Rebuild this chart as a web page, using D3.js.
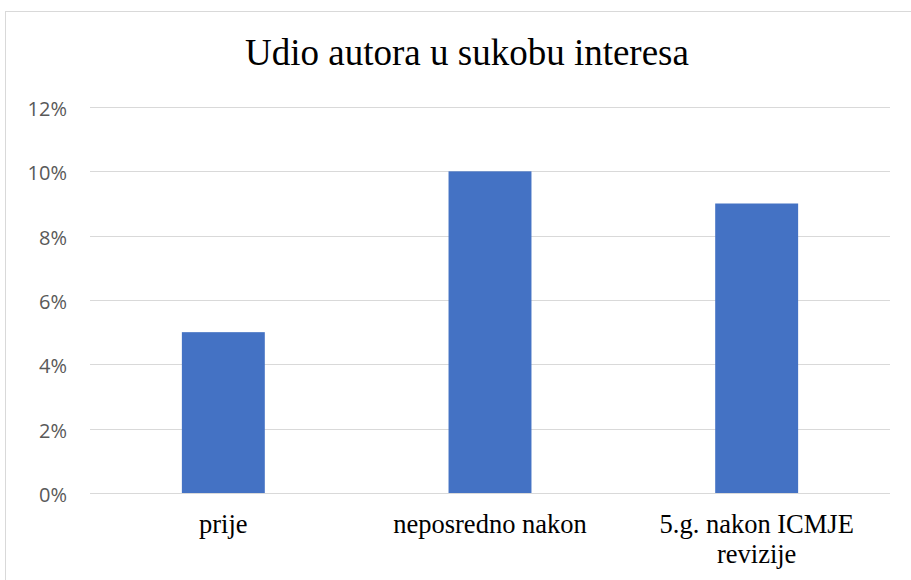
<!DOCTYPE html>
<meta charset="utf-8">
<style>
body { margin: 0; background: #fff; }
.axis--y text { font-family: "Open Sans", sans-serif; font-size: 20px; fill: #595959; }
.cat { font-family: "Liberation Serif", "Times New Roman", serif; font-size: 26.5px; fill: #000; }
.title { font-family: "Liberation Serif", "Times New Roman", serif; font-size: 37px; fill: #000; }
</style>
<svg width="911" height="580"></svg>
<script src="https://cdn.jsdelivr.net/npm/d3@7"></script>
<script>

var categories = [["prije"], ["neposredno nakon"], ["5.g. nakon ICMJE", "revizije"]];
var values = [0.05, 0.10, 0.09];
var yTicks = [0, 0.02, 0.04, 0.06, 0.08, 0.10, 0.12];

var svg = d3.select("svg"),
    margin = {top: 107, right: 21, bottom: 87, left: 90},
    width = svg.attr("width") - margin.left - margin.right,
    height = svg.attr("height") - margin.top - margin.bottom;

// chart border
svg.append("rect")
    .attr("x", 5.5)
    .attr("y", 11.5)
    .attr("width", 920)
    .attr("height", 600)
    .attr("fill", "none")
    .attr("stroke", "#d9d9d9");

svg.append("text")
    .attr("class", "title")
    .attr("x", 467)
    .attr("y", 65)
    .attr("text-anchor", "middle")
    .text("Udio autora u sukobu interesa");

var g = svg.append("g").attr("transform", "translate(" + margin.left + "," + margin.top + ")");

var x = d3.scaleBand()
    .domain(d3.range(categories.length))
    .range([0, width])
    .paddingInner(0.689)
    .paddingOuter(0.3445);

var y = d3.scaleLinear().domain([0, 0.12]).range([height, 0]);

// gridlines
g.selectAll(".grid")
    .data(yTicks)
  .enter().append("line")
    .attr("class", "grid")
    .attr("x1", 0)
    .attr("x2", width)
    .attr("y1", function(d) { return Math.round(y(d)) + 0.5; })
    .attr("y2", function(d) { return Math.round(y(d)) + 0.5; })
    .attr("stroke", "#d9d9d9")
    .attr("stroke-width", 1);

var yAxis = g.append("g")
    .attr("class", "axis axis--y")
    .call(d3.axisLeft(y).tickValues(yTicks).tickFormat(d3.format(".0%")).tickSize(0).tickPadding(23));
yAxis.select(".domain").remove();
yAxis.selectAll("text").attr("dy", "0.42em");

g.selectAll(".bar")
    .data(values)
  .enter().append("rect")
    .attr("class", "bar")
    .attr("x", function(d, i) { return x(i); })
    .attr("width", x.bandwidth())
    .attr("y", function(d) { return y(d); })
    .attr("height", function(d) { return height - y(d); })
    .attr("fill", "#4472c4");

var cat = g.selectAll(".cat")
    .data(categories)
  .enter().append("text")
    .attr("class", "cat")
    .attr("text-anchor", "middle")
    .attr("x", function(d, i) { return x(i) + x.bandwidth() / 2; })
    .attr("y", height + 40);
cat.selectAll("tspan")
    .data(function(d) { return d; })
  .enter().append("tspan")
    .attr("x", function() { return d3.select(this.parentNode).attr("x"); })
    .attr("dy", function(d, i) { return i ? 30 : 0; })
    .text(function(d) { return d; });

</script>
